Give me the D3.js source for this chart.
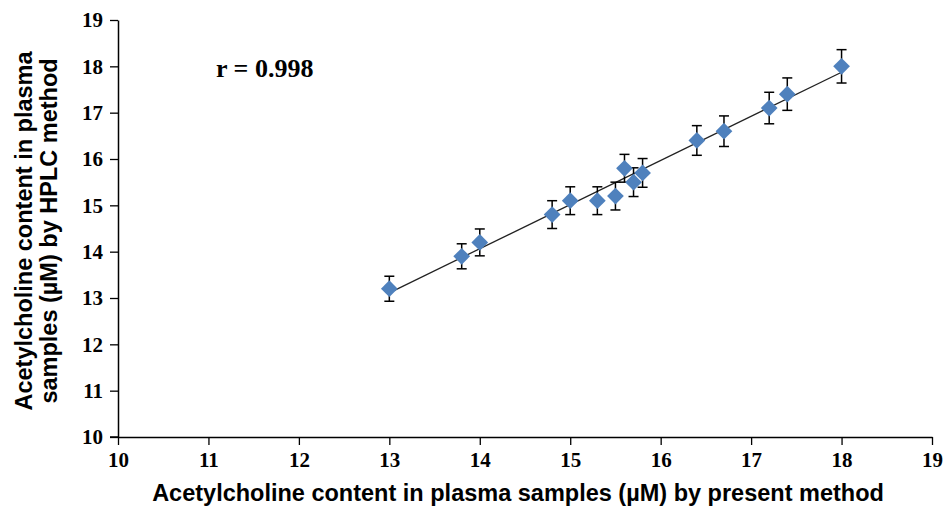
<!DOCTYPE html>
<html>
<head>
<meta charset="utf-8">
<script src="https://cdn.jsdelivr.net/npm/d3@7"></script>
<style>
  body { margin: 0; background: #fff; }
  .ttl { font-family: "Liberation Sans", Arial, sans-serif; font-weight: bold; font-size: 23.5px; fill: #000; }
</style>
</head>
<body>
<div id="viz"></div>
<script>
// values
const presentMethod = [13, 13.8, 14, 14.8, 15, 15.3, 15.5, 15.6, 15.7, 15.8, 16.4, 16.7, 17.2, 17.4, 18];
const hplcMethod    = [13.2, 13.9, 14.2, 14.8, 15.1, 15.1, 15.2, 15.8, 15.5, 15.7, 16.4, 16.6, 17.1, 17.4, 18.0];
const hplcError     = [0.27, 0.27, 0.29, 0.3, 0.3, 0.3, 0.3, 0.3, 0.31, 0.31, 0.32, 0.33, 0.34, 0.35, 0.36];
const xTicks = [10, 11, 12, 13, 14, 15, 16, 17, 18, 19];
const yTicks = [10, 11, 12, 13, 14, 15, 16, 17, 18, 19];
const rLabel = "r = 0.998";

const width = 945, height = 506;
const margin = {top: 20, right: 13, bottom: 69, left: 118};

const svg = d3.select('#viz').append('svg')
    .attr('width', width)
    .attr('height', height);

const x = d3.scaleLinear().domain([10, 19]).range([margin.left, width - margin.right]);
const y = d3.scaleLinear().domain([10, 19]).range([height - margin.bottom, margin.top]);

const points = presentMethod.map((d, i) => ({x: d, y: hplcMethod[i], e: hplcError[i]}));

// axes
const xAxis = svg.append('g')
    .attr('transform', `translate(0,${y(10)})`)
    .call(d3.axisBottom(x).tickValues(xTicks).tickSize(8).tickPadding(7).tickSizeOuter(0));
const yAxis = svg.append('g')
    .attr('transform', `translate(${x(10)},0)`)
    .call(d3.axisLeft(y).tickValues(yTicks).tickSize(8).tickPadding(7).tickSizeOuter(0));
[xAxis, yAxis].forEach(a => {
  a.select('.domain').attr('stroke', '#000').attr('stroke-width', 1.5);
  a.selectAll('.tick line').attr('stroke', '#000').attr('stroke-width', 1.3);
  a.selectAll('.tick text')
      .attr('font-family', '"Liberation Serif", serif')
      .attr('font-weight', 'bold')
      .attr('font-size', 21)
      .attr('fill', '#000');
});
// extend x axis a bit left of y axis like the original
xAxis.append('line').attr('x1', x(10) - 8).attr('x2', x(10)).attr('stroke', '#000').attr('stroke-width', 1.5);

// regression line (least squares through the points)
const mx = d3.mean(points, d => d.x), my = d3.mean(points, d => d.y);
const slope = d3.sum(points, d => (d.x - mx) * (d.y - my)) / d3.sum(points, d => (d.x - mx) ** 2);
const icpt = my - slope * mx;
const x0 = d3.min(presentMethod), x1 = d3.max(presentMethod);
svg.append('line')
    .attr('x1', x(x0)).attr('y1', y(icpt + slope * x0))
    .attr('x2', x(x1)).attr('y2', y(icpt + slope * x1))
    .attr('stroke', '#222').attr('stroke-width', 1.3);

// error bars
const eb = svg.append('g').attr('stroke', '#000').attr('stroke-width', 1.5);
eb.selectAll('line.v').data(points).join('line')
    .attr('x1', d => x(d.x)).attr('x2', d => x(d.x))
    .attr('y1', d => y(d.y - d.e)).attr('y2', d => y(d.y + d.e));
eb.selectAll('line.top').data(points).join('line')
    .attr('x1', d => x(d.x) - 5).attr('x2', d => x(d.x) + 5)
    .attr('y1', d => y(d.y + d.e)).attr('y2', d => y(d.y + d.e));
eb.selectAll('line.bot').data(points).join('line')
    .attr('x1', d => x(d.x) - 5).attr('x2', d => x(d.x) + 5)
    .attr('y1', d => y(d.y - d.e)).attr('y2', d => y(d.y - d.e));

// diamond markers
svg.append('g').selectAll('path').data(points).join('path')
    .attr('d', d3.symbol().type(d3.symbolSquare).size(140))
    .attr('transform', d => `translate(${x(d.x)},${y(d.y)}) rotate(45)`)
    .attr('fill', '#4f81bd');

// r label
svg.append('text')
    .attr('x', 216).attr('y', 77)
    .attr('font-family', '"Liberation Serif", serif')
    .attr('font-weight', 'bold').attr('font-size', 26)
    .text(rLabel);

// axis titles
svg.append('text').attr('class', 'ttl')
    .attr('x', 518).attr('y', 501)
    .attr('text-anchor', 'middle')
    .text('Acetylcholine content in plasma samples (\u00b5M) by present method');
const yt = svg.append('text').attr('class', 'ttl')
    .attr('text-anchor', 'middle')
    .attr('transform', `translate(32,231) rotate(-90)`);
yt.append('tspan').attr('x', 0).attr('y', 0).text('Acetylcholine content in plasma');
yt.append('tspan').attr('x', 0).attr('y', 25).text('samples (\u00b5M) by HPLC method');
</script>
</body>
</html>
